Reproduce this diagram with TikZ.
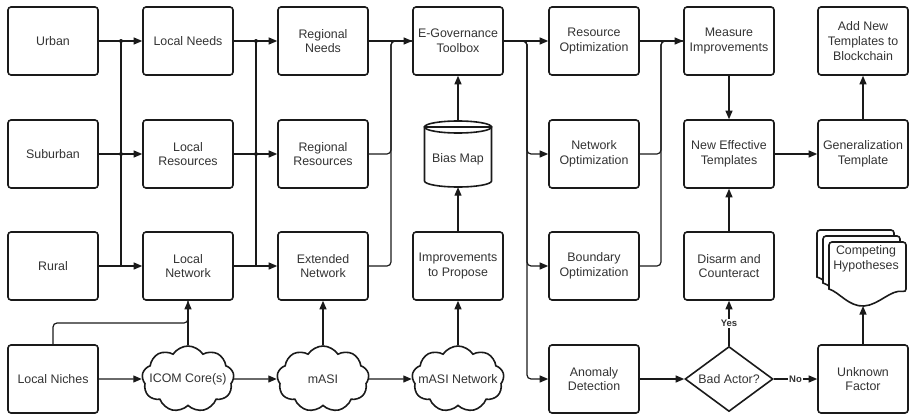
\documentclass[tikz,border=0pt]{standalone}
\usepackage{fontspec}
\setmainfont{Liberation Sans}
\usetikzlibrary{shapes.geometric,shapes.symbols,arrows.meta}
\definecolor{txt}{HTML}{333333}
\definecolor{ln}{HTML}{1A1A1A}
\begin{document}
\begin{tikzpicture}[x=1pt,y=-1pt,
  lbl/.style={text=txt, align=center, inner sep=0pt, font=\fontsize{12.4}{14.6}\selectfont},
  box/.style={lbl, draw=ln, line width=1.6pt, rounded corners=3pt, minimum width=90pt, minimum height=68pt, fill=white},
  cloudsh/.style={cloud, cloud puffs=9, cloud puff arc=115, aspect=1.4, draw=ln, line width=1.6pt, minimum width=92pt, minimum height=66pt, inner sep=0pt, fill=white},
  conn/.style={draw=ln, line width=1.2pt, -{Triangle[length=8.5pt,width=7pt]}},
  wire/.style={draw=ln, line width=1.2pt, rounded corners=4pt},
  yn/.style={font=\bfseries\fontsize{9.5}{11}\selectfont, text=txt, fill=white, inner sep=1pt},
  jdot/.style={fill=ln}
]
\useasboundingbox (0,0) rectangle (909,415);

% column 1
\node[box] (urban) at (53,41) {Urban};
\node[box] (suburban) at (53,154) {Suburban};
\node[box] (rural) at (53,266) {Rural};
\node[box] (niches) at (53,379) {Local Niches};
% column 2
\node[box] (lneeds) at (188,41) {Local Needs};
\node[box] (lres) at (188,154) {Local\\Resources};
\node[box] (lnet) at (188,266) {Local\\Network};
\node[cloudsh] (icom) at (188,379) {};
\node[lbl] at (icom.center) {ICOM Core(s)};
% column 3
\node[box] (rneeds) at (323,41) {Regional\\Needs};
\node[box] (rres) at (323,154) {Regional\\Resources};
\node[box] (extnet) at (323,266) {Extended\\Network};
\node[cloudsh] (masi) at (323,379) {};
\node[lbl] at (masi.center) {mASI};
% column 4
\node[box] (egov) at (458,41) {E-Governance\\Toolbox};
\node[minimum width=67pt, minimum height=66pt, inner sep=0pt] (bias) at (458,154) {};
\filldraw[draw=ln, fill=white, line width=1.6pt] (424.5,127) -- (424.5,181) arc (180:0:33.5 and 6) -- (491.5,127) -- cycle;
\draw[ln, line width=1.6pt] (458,127) ellipse [x radius=33.5, y radius=6];
\node[lbl] at (458,159) {Bias Map};
\node[box] (improve) at (458,266) {Improvements\\to Propose};
\node[cloudsh] (masinet) at (458,379) {};
\node[lbl] at (masinet.center) {mASI Network};
% column 5
\node[box] (resopt) at (594,41) {Resource\\Optimization};
\node[box] (netopt) at (594,154) {Network\\Optimization};
\node[box] (bndopt) at (594,266) {Boundary\\Optimization};
\node[box] (anomaly) at (594,379) {Anomaly\\Detection};
% column 6
\node[box] (measure) at (729,41) {Measure\\Improvements};
\node[box] (newt) at (729,154) {New Effective\\Templates};
\node[box] (disarm) at (729,266) {Disarm and\\Counteract};
\node[lbl, diamond, aspect=1.35, draw=ln, line width=1.6pt, minimum width=88pt, minimum height=65pt, fill=white] (bad) at (729,379) {Bad Actor?};
% column 7
\node[box] (addnew) at (863,41) {Add New\\Templates to\\Blockchain};
\node[box] (gen) at (863,154) {Generalization\\Template};
\node[box] (unknown) at (863,379) {Unknown\\Factor};
% multiple documents
\foreach \ox/\oy in {817/230, 823/236, 829/242}{
  \filldraw[draw=ln, fill=white, line width=1.6pt, rounded corners=3pt]
    (\ox,\oy+47) -- (\ox,\oy) -- (\ox+77,\oy) -- (\ox+77,\oy+50)
    [sharp corners] .. controls (\ox+62,\oy+47) and (\ox+50,\oy+63) .. (\ox+35,\oy+64)
    .. controls (\ox+20,\oy+65) and (\ox+10,\oy+50) .. (\ox,\oy+47) -- cycle;
}
\node[lbl] (hyp) at (866,259) {Competing\\Hypotheses};
\coordinate (hypb) at (863,306);

% junction coordinates
\coordinate (j1) at (121,41);
\coordinate (j2) at (256,41);
\coordinate (j3) at (391,41);
\coordinate (j4) at (527,41);
\coordinate (j5) at (661,41);
\coordinate (jn) at (188,323);

% column 1 -> column 2
\draw[conn] (urban) -- (lneeds);
\draw[conn] (suburban) -- (lres);
\draw[conn] (rural) -- (lnet);
\draw[wire] (j1) -- (121,266);
\fill[jdot] (j1) circle (2pt);
\fill[jdot] (121,154) circle (2pt);
% column 2 -> column 3
\draw[conn] (lneeds) -- (rneeds);
\draw[conn] (lres) -- (rres);
\draw[conn] (lnet) -- (extnet);
\draw[wire] (j2) -- (256,266);
\fill[jdot] (j2) circle (2pt);
\fill[jdot] (256,154) circle (2pt);
% column 3 -> column 4
\draw[conn] (rneeds) -- (egov);
\draw[wire] (rres.east) -| (j3) -- (egov.west);
\draw[wire] (extnet.east) -| (j3) -- (egov.west);
% column 4 -> column 5
\draw[conn] (egov) -- (resopt);
\draw[conn, rounded corners=4pt] (egov.east) -- (j4) |- (netopt.west);
\draw[conn, rounded corners=4pt] (egov.east) -- (j4) |- (bndopt.west);
\draw[conn, rounded corners=4pt] (egov.east) -- (j4) |- (anomaly.west);
% column 5 -> column 6
\draw[conn] (resopt) -- (measure);
\draw[wire] (netopt.east) -| (j5) -- (measure.west);
\draw[wire] (bndopt.east) -| (j5) -- (measure.west);
% column 6/7
\draw[conn] (measure) -- (newt);
\draw[conn] (disarm) -- (newt);
\draw[conn] (newt) -- (gen);
\draw[conn] (gen) -- (addnew);
\draw[conn] (anomaly) -- (bad);
\draw[conn] (bad) -- node[yn] {Yes} (disarm);
\draw[conn] (bad) -- node[yn] {No} (unknown);
\draw[conn] (unknown) -- (hypb);
% bottom row
\draw[conn] (niches) -- (icom);
\draw[conn] (icom) -- (masi);
\draw[conn] (masi) -- (masinet);
\draw[wire] (niches.north) |- (jn) -- (lnet.south);
\draw[conn] (icom.north) -- (lnet.south);
\draw[conn] (masi.north) -- (extnet.south);
\draw[conn] (masinet.north) -- (improve.south);
\draw[conn] (improve) -- (bias);
\draw[conn] (bias) -- (egov);
\end{tikzpicture}
\end{document}
